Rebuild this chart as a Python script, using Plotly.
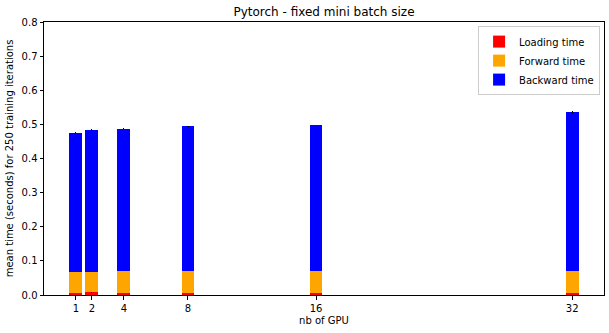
import plotly.graph_objects as go

gpus = [1, 2, 4, 8, 16, 32]
loading = [0.006, 0.009, 0.006, 0.006, 0.006, 0.006]
forward = [0.062, 0.059, 0.065, 0.065, 0.065, 0.065]
backward = [0.408, 0.416, 0.416, 0.423, 0.4275, 0.4665]
loading_err = [0.001, 0.002, 0.001, 0.001, 0.001, 0.001]
forward_err = [0.001, 0.001, 0.001, 0.001, 0.001, 0.002]
backward_err = [0.001, 0.001, 0.001, 0.001, 0.001, 0.003]

font = "DejaVu Sans, Arial, sans-serif"

fig = go.Figure()
for name, vals, errs, color in [
    ("Loading time", loading, loading_err, "#ff0000"),
    ("Forward time", forward, forward_err, "#ffa500"),
    ("Backward time", backward, backward_err, "#0000ff"),
]:
    fig.add_trace(go.Bar(
        x=gpus, y=vals, name=name, width=0.8,
        marker=dict(color=color, line=dict(width=0)),
        error_y=dict(type="data", array=errs, color="black", thickness=1.2, width=0),
    ))

fig.update_layout(
    barmode="stack",
    width=609, height=333,
    margin=dict(l=44, r=5, t=22, b=38),
    paper_bgcolor="white", plot_bgcolor="white",
    font=dict(family=font, size=10, color="black"),
    title=dict(text="Pytorch - fixed mini batch size", x=(44 + 604) / 2 / 609, xanchor="center",
               y=1 - 12 / 333, yanchor="middle", font=dict(size=12)),
    showlegend=True,
    legend=dict(x=0.993, y=0.985, xanchor="right", yanchor="top",
                bordercolor="#cccccc", borderwidth=1, bgcolor="white",
                font=dict(size=10), traceorder="normal",
                itemwidth=30, tracegroupgap=0),
    xaxis=dict(range=[-0.99, 33.99], tickmode="array", tickvals=gpus,
               ticktext=[str(g) for g in gpus],
               showgrid=False, zeroline=False,
               showline=True, linecolor="black", linewidth=1, mirror=True,
               ticks="outside", ticklen=3.5, tickcolor="black",
               title=dict(text="nb of GPU", font=dict(size=10), standoff=4)),
    yaxis=dict(range=[0, 0.8], tickmode="linear", tick0=0, dtick=0.1, tickformat=".1f",
               showgrid=False, zeroline=False,
               showline=True, linecolor="black", linewidth=1, mirror=True,
               ticks="outside", ticklen=3.5, tickcolor="black",
               title=dict(text="mean time (seconds) for 250 training iterations",
                          font=dict(size=10), standoff=6)),
)

fig.write_html("out.html")
